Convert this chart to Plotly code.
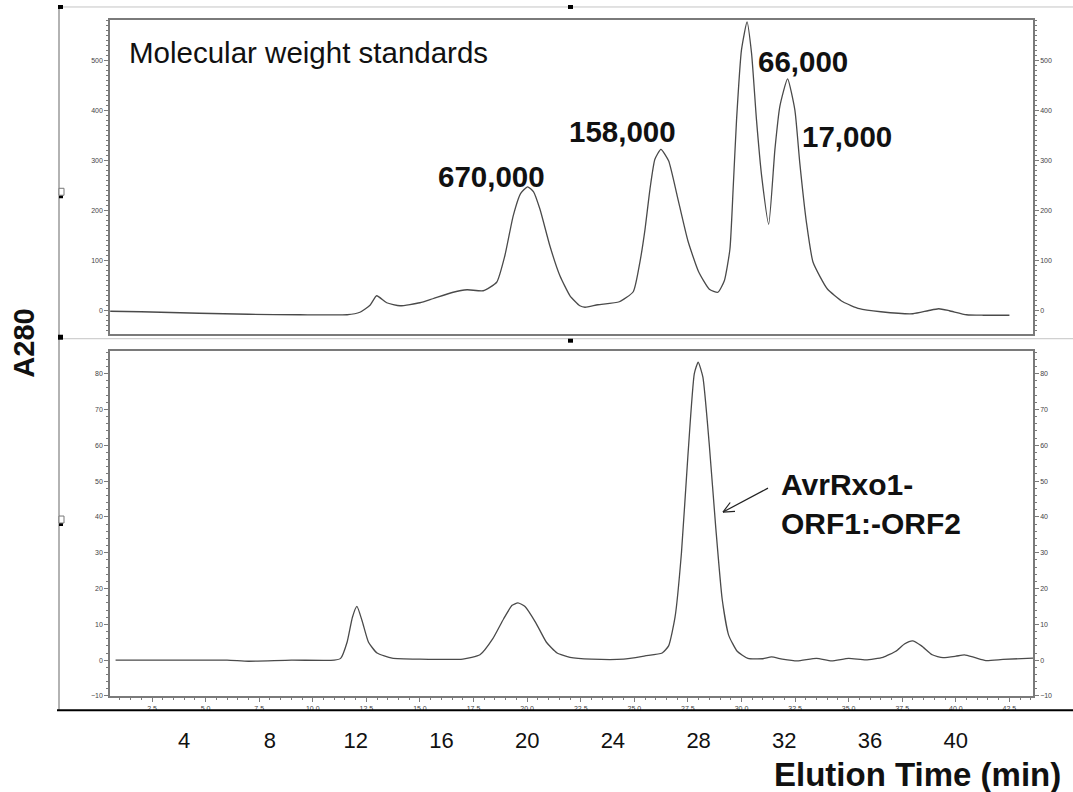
import plotly.graph_objects as go

# ---------------- data ----------------
std_time = [0.55, 2.0, 4.7, 7.0, 9.4, 11.6, 12.2, 12.67, 12.98, 13.45, 14.07, 15.0, 15.6,
            16.55, 17.2, 17.95, 18.58, 18.96, 19.35, 19.7, 20.02, 20.3, 20.6, 21.06, 21.53,
            22.0, 22.46, 22.7, 23.3, 24.3, 24.95, 25.26, 25.5, 25.73, 25.96, 26.24, 26.6,
            27.0, 27.5, 28.0, 28.5, 28.9, 29.2, 29.46, 29.61, 29.77, 30.0, 30.26, 30.47,
            30.7, 30.94, 31.27, 31.56, 31.79, 32.15, 32.49, 32.72, 33.03, 33.34, 34.0,
            34.73, 35.5, 36.5, 38.0, 38.7, 39.2, 39.7, 40.5, 41.3, 42.5]
std_a280 = [-1, -2, -5, -7, -8, -8, -3, 11, 30, 16, 10, 16, 24,
            37, 42, 40, 57, 110, 190, 235, 248, 238, 203, 130, 70,
            30, 10, 7, 12, 18, 38, 97, 163, 243, 303, 323, 300,
            230, 140, 78, 43, 37, 60, 123, 243, 382, 522, 578, 515,
            382, 270, 173, 323, 409, 464, 402, 296, 177, 97, 44,
            18, 4, -2, -6, 0, 4, 0, -8, -9, -9]

sample_time = [0.8, 3.0, 6.0, 7.0, 9.0, 11.0, 11.3, 11.6, 11.85, 12.06, 12.3, 12.6, 13.0,
               13.7, 15.0, 17.0, 17.8, 18.4, 18.9, 19.3, 19.57, 19.9, 20.4, 20.9, 21.4,
               22.0, 23.0, 24.5, 25.5, 26.3, 26.6, 26.9, 27.2, 27.5, 27.8, 27.98, 28.2,
               28.5, 28.8, 29.1, 29.4, 29.8, 30.3, 31.0, 31.4, 31.9, 32.6, 33.5, 34.2,
               35.0, 35.8, 36.6, 37.2, 37.6, 37.98, 38.4, 38.9, 39.4, 40.0, 40.4, 40.9,
               41.4, 42.2, 43.6]
sample_a280 = [0, 0, 0, -0.3, 0, 0, 0.5, 5, 12, 15, 11, 5, 2,
               0.6, 0.3, 0.3, 1.5, 6, 11.5, 15.3, 16, 15, 10.5, 5, 2,
               0.8, 0.3, 0.3, 1.2, 2, 4, 12, 30, 57, 80, 83.2, 79,
               60, 37, 17, 7, 2.5, 0.5, 0.4, 0.9, 0.3, -0.2, 0.5, -0.2,
               0.5, 0.1, 0.8, 2.5, 4.5, 5.4, 4, 1.5, 0.7, 1.1, 1.5, 0.7,
               -0.1, 0.2, 0.6]

top_ticks = [0, 100, 200, 300, 400, 500]
bottom_ticks = [-10, 0, 10, 20, 30, 40, 50, 60, 70, 80]
outer_ticks = [4, 8, 12, 16, 20, 24, 28, 32, 36, 40]

peak_labels = ["670,000", "158,000", "66,000", "17,000"]

# ---------------- layout helpers ----------------
W, H = 1073, 792
def px(x):
    return x / W
def py(y):
    return 1 - y / H

FONT = "Liberation Sans, Arial, sans-serif"
FRAME = "#7a7a7a"
CURVE = "#4a4a4a"
TICKF = dict(family=FONT, size=7, color="#444444")

xdom = [px(110), px(1033)]
xr = [0.54, 43.6]

fig = go.Figure()
fig.add_trace(go.Scatter(x=std_time, y=std_a280, mode="lines",
                         line=dict(color=CURVE, width=1.3, shape="spline", smoothing=0.5),
                         xaxis="x", yaxis="y", showlegend=False, hoverinfo="skip"))
fig.add_trace(go.Scatter(x=sample_time, y=sample_a280, mode="lines",
                         line=dict(color=CURVE, width=1.3, shape="spline", smoothing=0.5),
                         xaxis="x2", yaxis="y2", showlegend=False, hoverinfo="skip"))

common_y = dict(showgrid=False, zeroline=False, showline=True, linecolor=FRAME, linewidth=1.5,
                ticks="outside", ticklen=4, tickcolor=FRAME, tickwidth=1, tickfont=TICKF)

fig.update_layout(
    width=W, height=H, margin=dict(l=0, r=0, t=0, b=0),
    paper_bgcolor="white", plot_bgcolor="white",
    xaxis=dict(domain=xdom, range=xr, anchor="y", showgrid=False, zeroline=False,
               showline=True, mirror=True, linecolor=FRAME, linewidth=1.5,
               showticklabels=False, ticks=""),
    yaxis=dict(domain=[py(335), py(20)], range=[-46, 582], anchor="x",
               tickvals=top_ticks, mirror=True,
               minor=dict(dtick=10, tick0=0, ticklen=2, ticks="outside", tickcolor=FRAME),
               **common_y),
    yaxis3=dict(overlaying="y", side="right", anchor="x", range=[-46, 582],
                tickvals=top_ticks,
                minor=dict(dtick=10, tick0=0, ticklen=2, ticks="outside", tickcolor=FRAME),
                **common_y),
    xaxis2=dict(domain=xdom, range=xr, anchor="y2", showgrid=False, zeroline=False,
                showline=True, mirror=True, linecolor=FRAME, linewidth=1.5,
                tick0=0, dtick=2.5, tickformat=".1f", ticks="outside", ticklen=4,
                tickcolor=FRAME, tickfont=TICKF,
                minor=dict(dtick=0.5, tick0=0, ticklen=2, ticks="outside", tickcolor=FRAME)),
    yaxis2=dict(domain=[py(699), py(352)], range=[-10.1, 86.4], anchor="x2",
                tickvals=bottom_ticks, mirror=True,
                minor=dict(dtick=2, tick0=0, ticklen=2, ticks="outside", tickcolor=FRAME),
                **common_y),
    yaxis4=dict(overlaying="y2", side="right", anchor="x2", range=[-10.1, 86.4],
                tickvals=bottom_ticks,
                minor=dict(dtick=2, tick0=0, ticklen=2, ticks="outside", tickcolor=FRAME),
                **common_y),
    xaxis3=dict(overlaying="x2", anchor="free", position=py(728), range=xr,
                tickvals=outer_ticks, ticktext=[str(v) for v in outer_ticks],
                showline=False, ticks="", showgrid=False, zeroline=False,
                tickfont=dict(family=FONT, size=22, color="#111111")),
)

# dummy traces so overlay axes render
fig.add_trace(go.Scatter(x=[None], y=[None], xaxis="x", yaxis="y3", showlegend=False))
fig.add_trace(go.Scatter(x=[None], y=[None], xaxis="x2", yaxis="y4", showlegend=False))
fig.add_trace(go.Scatter(x=[None], y=[None], xaxis="x3", yaxis="y2", showlegend=False))

# ---------------- outer frame and decorations ----------------
shapes = []
light = dict(color="#c4c4c4", width=1)
shapes.append(dict(type="line", xref="paper", yref="paper", x0=px(60), x1=px(1073), y0=py(7), y1=py(7), line=light))
shapes.append(dict(type="line", xref="paper", yref="paper", x0=px(60), x1=px(1073), y0=py(340), y1=py(340), line=light))
shapes.append(dict(type="line", xref="paper", yref="paper", x0=px(59), x1=px(59), y0=py(7), y1=py(713), line=dict(color="#9a9a9a", width=1.5)))
shapes.append(dict(type="line", xref="paper", yref="paper", x0=px(57), x1=px(1073), y0=py(713), y1=py(713), line=dict(color="#000000", width=2)))
for (x0, y0, x1, y1) in [(58, 5, 63, 9), (58, 336, 63, 341), (568, 5, 573, 9), (568, 340, 573, 344),
                         (59, 196, 63, 199), (59, 525, 63, 528)]:
    shapes.append(dict(type="rect", xref="paper", yref="paper", x0=px(x0), x1=px(x1), y0=py(y1), y1=py(y0),
                       fillcolor="black", line=dict(width=0)))
for (x0, y0, x1, y1) in [(59, 189, 64, 196), (59, 518, 64, 525)]:
    shapes.append(dict(type="rect", xref="paper", yref="paper", x0=px(x0), x1=px(x1), y0=py(y1), y1=py(y0),
                       fillcolor="white", line=dict(color="#777777", width=1)))

# open arrow for AvrRxo1 label
hx, hy = 723, 514
shapes.append(dict(type="line", xref="paper", yref="paper", x0=px(hx), y0=py(hy), x1=px(768), y1=py(490),
                   line=dict(color="#222222", width=1.2)))
shapes.append(dict(type="line", xref="paper", yref="paper", x0=px(hx), y0=py(hy), x1=px(735), y1=py(513.4),
                   line=dict(color="#222222", width=1.2)))
shapes.append(dict(type="line", xref="paper", yref="paper", x0=px(hx), y0=py(hy), x1=px(730.2), y1=py(504.4),
                   line=dict(color="#222222", width=1.2)))
fig.update_layout(shapes=shapes)

# ---------------- text ----------------
ann = []
def text(x, y, s, size, bold=False, xanchor="center", family=FONT, angle=0, align="left"):
    ann.append(dict(x=px(x), y=py(y), xref="paper", yref="paper", text=f"<b>{s}</b>" if bold else s,
                    showarrow=False, xanchor=xanchor, yanchor="middle", textangle=angle, align=align,
                    font=dict(family=family, size=size, color="#111111")))

text(127, 53, "Molecular weight standards", 29.5, xanchor="left")
text(491, 177, peak_labels[0], 29.5, bold=True)
text(622, 132, peak_labels[1], 29.5, bold=True)
text(803, 62, peak_labels[2], 29.5, bold=True)
text(847, 137, peak_labels[3], 29.5, bold=True)
text(779, 506, "AvrRxo1-<br>ORF1:-ORF2", 30, bold=True, xanchor="left")
text(24, 345, "A280", 29, bold=True, angle=-90)
text(1063, 777, "Elution Time (min)", 33, bold=True, xanchor="right")
fig.update_layout(annotations=ann)

fig.write_html("out.html")
